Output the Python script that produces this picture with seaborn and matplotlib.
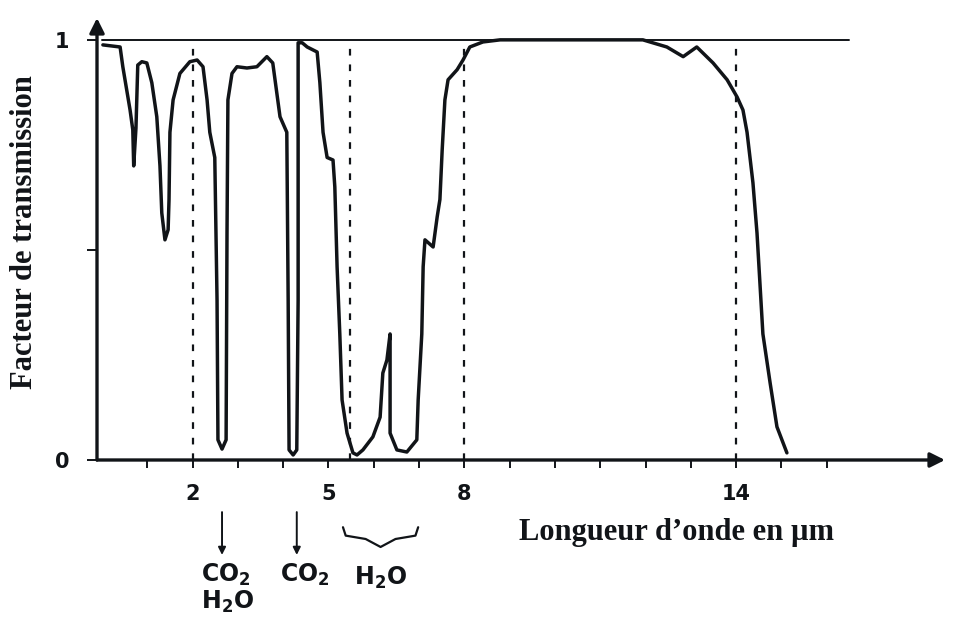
import matplotlib
matplotlib.use("Agg")
import matplotlib.pyplot as plt
import seaborn as sns
import pandas as pd

# ---- data ----
wavelength_um = [0.02, 0.40, 0.46, 0.62, 0.68, 0.70, 0.75, 0.79, 0.88, 0.99,
                 1.10, 1.21, 1.28, 1.32, 1.39, 1.46, 1.48, 1.50, 1.57, 1.72,
                 1.94, 2.10, 2.23, 2.32, 2.38, 2.49, 2.54, 2.56, 2.65, 2.74,
                 2.76, 2.78, 2.87, 2.98, 3.20, 3.42, 3.64, 3.77, 3.93, 4.08,
                 4.11, 4.13, 4.22, 4.30, 4.33, 4.33, 4.42, 4.53, 4.75, 4.81,
                 4.88, 4.97, 5.10, 5.14, 5.19, 5.25, 5.30, 5.41, 5.54, 5.63,
                 5.76, 5.98, 6.14, 6.20, 6.29, 6.36, 6.36, 6.51, 6.73, 6.95,
                 6.98, 7.06, 7.09, 7.13, 7.31, 7.40, 7.46, 7.51, 7.57, 7.64,
                 7.84, 7.97, 8.12, 8.41, 8.79, 11.94, 12.47, 12.83, 13.13, 13.49,
                 13.80, 14.02, 14.15, 14.24, 14.37, 14.46, 14.59, 14.75, 14.90, 15.12]
transmission = [0.988, 0.983, 0.936, 0.833, 0.786, 0.700, 0.790, 0.940, 0.948, 0.945,
                0.898, 0.817, 0.700, 0.588, 0.524, 0.548, 0.620, 0.780, 0.857, 0.920,
                0.948, 0.952, 0.936, 0.857, 0.780, 0.720, 0.380, 0.048, 0.026, 0.048,
                0.540, 0.857, 0.920, 0.936, 0.933, 0.936, 0.960, 0.945, 0.817, 0.780,
                0.380, 0.024, 0.012, 0.024, 0.380, 0.993, 0.993, 0.983, 0.971, 0.898,
                0.780, 0.720, 0.714, 0.650, 0.460, 0.300, 0.143, 0.064, 0.017, 0.012,
                0.024, 0.055, 0.102, 0.207, 0.238, 0.300, 0.064, 0.024, 0.019, 0.048,
                0.143, 0.300, 0.460, 0.524, 0.507, 0.579, 0.620, 0.738, 0.857, 0.905,
                0.929, 0.952, 0.983, 0.995, 1.000, 1.000, 0.983, 0.960, 0.983, 0.945,
                0.905, 0.864, 0.833, 0.780, 0.660, 0.540, 0.300, 0.183, 0.079, 0.017]

x_ticks = list(range(1, 17))
x_tick_labels = ["", "2", "", "", "5", "", "", "8", "", "", "", "", "", "14", "", ""]
y_ticks = [0, 0.5, 1]
y_tick_labels = ["0", "", "1"]
dashed_lines_um = [2, 5.47, 8, 14]
reference_level = 1.0
reference_end_um = 16.5

# absorption annotations
co2_h2o_x = 2.65
co2_x = 4.30
h2o_band = (5.32, 6.98)

df = pd.DataFrame({"wl": wavelength_um, "T": transmission})

sns.set_theme(style="white")
plt.rcParams["font.family"] = ["DejaVu Sans"]
ink = "#111418"
serif = ["Liberation Serif", "DejaVu Serif"]

fig = plt.figure(figsize=(9.58, 6.30), dpi=100)
ax = fig.add_axes([97 / 958, 1 - 460 / 630, 848 / 958, 442 / 630])
ax.set_xlim(-0.11, 18.61)
ax.set_ylim(0, 1.052)

sns.lineplot(data=df, x="wl", y="T", sort=False, estimator=None,
             color=ink, linewidth=2.5, ax=ax, zorder=3)

# reference level line at T = 1
ax.plot([0, reference_end_um], [reference_level, reference_level],
        color=ink, lw=1.4, zorder=2)
# dashed verticals
for xv in dashed_lines_um:
    ax.plot([xv, xv], [0, reference_level], color=ink, lw=1.6,
            ls=(0, (3, 4)), zorder=2)

# axes with arrows
for s in ax.spines.values():
    s.set_visible(False)
ax.annotate("", xy=(0, 1.0), xytext=(0, 0), xycoords="axes fraction",
            arrowprops=dict(arrowstyle="-|>", color=ink, lw=2.4,
                            mutation_scale=22, shrinkA=0, shrinkB=0))
ax.annotate("", xy=(1.0, 0), xytext=(0, 0), xycoords="axes fraction",
            arrowprops=dict(arrowstyle="-|>", color=ink, lw=2.4,
                            mutation_scale=22, shrinkA=0, shrinkB=0))

ax.set_xticks(x_ticks)
ax.set_xticklabels(x_tick_labels, fontsize=15, fontweight="bold", color=ink)
ax.set_yticks(y_ticks)
ax.set_yticklabels(y_tick_labels, fontsize=15, fontweight="bold", color=ink)
ax.tick_params(axis="x", direction="out", length=6, width=1.4, colors=ink,
               pad=11, bottom=True)
ax.tick_params(axis="y", direction="out", length=7, width=1.4, colors=ink,
               pad=13, left=True)

ax.set_xlabel("Longueur d\u2019onde en \u00b5m", family=serif,
              fontsize=22, fontweight="bold", color=ink, va="center")
ax.xaxis.set_label_coords(0.683, -0.165)
ax.set_ylabel("Facteur de transmission", family=serif,
              fontsize=22, fontweight="bold", color=ink, va="center")
ax.yaxis.set_label_coords(-0.085, 0.516)

# annotations below the axis
arrow_kw = dict(arrowstyle="-|>", color=ink, lw=1.4, mutation_scale=11,
                shrinkA=0, shrinkB=0)
for xa in (co2_h2o_x, co2_x):
    ax.annotate("", xy=(xa, -0.226), xytext=(xa, -0.124),
                xycoords="data", annotation_clip=False, arrowprops=arrow_kw)

b0, b1 = h2o_band
bm = (b0 + b1) / 2
ax.plot([b0, b0 + 0.06, b0 + 0.5, bm, b1 - 0.5, b1 - 0.06, b1],
        [-0.160, -0.180, -0.188, -0.207, -0.188, -0.180, -0.160],
        color=ink, lw=1.6, clip_on=False)

txt_kw = dict(fontsize=17, fontweight="bold", color=ink, ha="center",
              va="center", clip_on=False)
ax.text(co2_h2o_x + 0.09, -0.274, r"CO$_\mathregular{2}$", **txt_kw)
ax.text(co2_h2o_x + 0.13, -0.338, r"H$_\mathregular{2}$O", **txt_kw)
ax.text(co2_x + 0.18, -0.274, r"CO$_\mathregular{2}$", **txt_kw)
ax.text(bm, -0.281, r"H$_\mathregular{2}$O", **txt_kw)

fig.savefig("out.png", dpi=100, facecolor="white")
